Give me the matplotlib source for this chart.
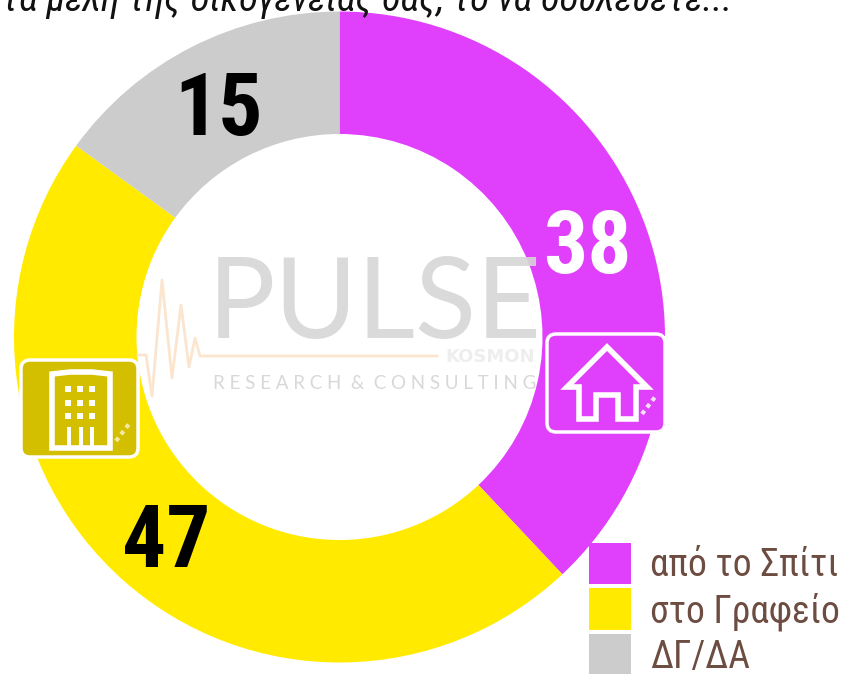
import matplotlib
matplotlib.use("Agg")
import matplotlib.pyplot as plt
from matplotlib.patches import FancyBboxPatch, Polygon, Rectangle

categories = ["από το Σπίτι", "στο Γραφείο", "ΔΓ/ΔΑ"]
values = [38, 47, 15]
colors = ["#E040FB", "#FFEA00", "#CCCCCC"]
label_colors = ["white", "black", "black"]
label_pos = [(587, 249), (166, 543), (219, 111)]
title = "τα μέλη της οικογένειάς σας, το να δουλεύετε..."

W, H = 845, 674
NARROW = "Roboto Condensed"

fig = plt.figure(figsize=(W/100, H/100), dpi=100)
ax = fig.add_axes([0, 0, 1, 1])
Y = lambda p: H - p

ax.pie(values, startangle=90, counterclock=False, colors=colors,
       center=(339.5, Y(337)), radius=325.5, frame=False,
       wedgeprops=dict(width=122.5, linewidth=0))
ax.set_xlim(0, W); ax.set_ylim(0, H); ax.set_aspect("equal"); ax.axis("off")

# values
for v, c, (x, y) in zip(values, label_colors, label_pos):
    ax.text(x, Y(y), str(v), color=c, fontsize=63, fontweight="bold",
            family=NARROW, ha="center", va="center", zorder=6)

# clipped question line
ax.text(2, Y(11), title, fontsize=27.8, style="italic", family=NARROW,
        color="#111111", ha="left", va="baseline", zorder=6)

# watermark
ax.text(208, Y(338), "PULSE", fontsize=81, family="Lato", fontweight="normal",
        color="#D6D6D6", ha="left", va="baseline", zorder=4, alpha=.9)
ax.text(213, Y(389), "R E S E A R C H  &  C O N S U L T I N G", fontsize=13.5, family="Lato",
        color="#D8D8D8", ha="left", va="baseline", zorder=4)
ax.text(445, Y(362), "KOSMON", fontsize=13, family="DejaVu Sans", fontweight="bold",
        color="#EEEEEE", ha="left", va="baseline", zorder=4)
ecg_x = [138,146,152,162,172,181,189,195,200,437]
ecg_y = [355,355,396,280,378,305,367,338,356,356]
ax.plot(ecg_x, [Y(v) for v in ecg_y], color="#FBE5CE", lw=2, zorder=4)

# icons
def box(x0, y0, x1, y1, fc):
    ax.add_patch(FancyBboxPatch((x0+8, Y(y1)+8), x1-x0-16, y1-y0-16,
                 boxstyle="round,pad=8,rounding_size=9", fc=fc, ec="white", lw=2.5, zorder=5))

box(547, 334, 665, 432, "#E040FB")
house = [(567,387),(607,347),(647,387),(636,387),(636,419),(618,419),(618,395),(596,395),(596,419),(579,419),(579,387)]
ax.add_patch(Polygon([(x, Y(y)) for x, y in house], closed=True, fc="none", ec="white", lw=4, zorder=6, joinstyle="miter"))

box(21, 360, 138, 457, "#D4BE00")
bld = [(52,448),(52,374),(70,372),(92,372),(110,374),(110,448)]
ax.add_patch(Polygon([(x, Y(y)) for x, y in bld], closed=True, fc="none", ec="white", lw=4, zorder=6))
for wy in (389, 403, 416):
    for wx in (68, 80, 92):
        ax.add_patch(Rectangle((wx-3, Y(wy)-3), 6, 6, fc="white", ec="none", zorder=6))
for wx in (69, 81, 92):
    ax.add_patch(Rectangle((wx-2, Y(448)), 4, 21, fc="white", ec="none", zorder=6))

# small marks inside icons
for x, y in ((648, 405), (122, 432)):
    ax.plot([x-6, x+7], [Y(y+9), Y(y-8)], color="#F3E3FA" if x > 300 else "#F2E9A5", lw=3, ls=(0, (1, 1)), zorder=6)

# legend
squares = [(543, 584), (588, 630), (634, 674)]
text_y = [565, 612, 658]
for (y0, y1), c, name, ty in zip(squares, colors, categories, text_y):
    ax.add_patch(Rectangle((589, Y(y1)), 42, y1-y0, fc=c, ec="none", zorder=5))
    ax.text(650, Y(ty), name, fontsize=27, family=NARROW, color="#6D4C41",
            ha="left", va="center", zorder=6)

fig.savefig("out.png", dpi=100, facecolor="white")
